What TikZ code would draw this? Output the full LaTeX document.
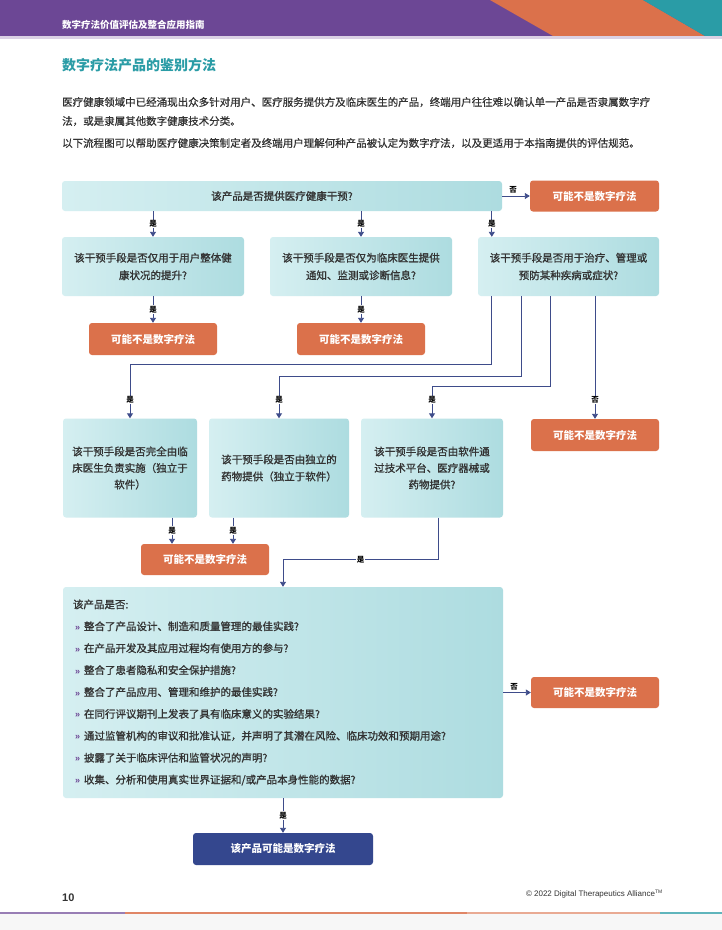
\documentclass[tikz,border=0pt]{standalone}
\usepackage{fontspec}
\setmainfont{Noto Sans CJK SC}
\newfontfamily\latinfont{Liberation Sans}
\newfontfamily\boxfont{Noto Sans CJK SC}[FakeBold=1.2]
\newfontfamily\parfont{Noto Sans CJK SC}[FakeBold=0.6]
\usetikzlibrary{calc,arrows.meta}
\definecolor{dtapurple}{HTML}{6C4795}
\definecolor{dtaorange}{HTML}{DB714B}
\definecolor{dtateal}{HTML}{2A9CA6}
\definecolor{dtanavy}{HTML}{34478E}
\definecolor{flowline}{HTML}{3E4C8A}
\definecolor{boxlight}{HTML}{D5EFF1}
\definecolor{boxdark}{HTML}{ADDCE0}
\definecolor{bodytext}{HTML}{333333}
\newcommand{\pbullet}{\makebox[11pt][l]{\hspace*{2pt}\textcolor{dtapurple}{\latinfont\bfseries\fontsize{9}{9}\selectfont »}}}

\begin{document}
\begin{tikzpicture}[x=1pt,y=-1pt,
	qbox/.style={rounded corners=3pt, left color=boxlight, right color=boxdark, text=bodytext, font=\boxfont\fontsize{10.5}{17.5}\selectfont, align=center, inner sep=0pt},
	nobox/.style={rounded corners=3pt, fill=dtaorange, text=white, font=\bfseries\fontsize{10.5}{13}\selectfont, minimum width=128, minimum height=31, inner sep=0pt},
	flow/.style={draw=flowline, line width=0.9pt, -{Triangle[width=6pt,length=5pt]}},
	yn/.style={fill=white, text=black, font=\bfseries\fontsize{7.5}{8}\selectfont, inner sep=1pt},
	line/.style={anchor=base west, inner sep=0pt, text=bodytext, font=\parfont\fontsize{10.5}{12}\selectfont}]
	%%%%% START %%%%%
	
	\fill[white] (0,0) rectangle (722,930);
	\useasboundingbox (0,0) rectangle (722,930);
	
	% header
	\fill[dtapurple] (0,0) rectangle (722,36);
	\fill[dtaorange] (490,0) -- (643,0) -- (705,36) -- (553,36) -- cycle;
	\fill[dtateal] (643,0) -- (722,0) -- (722,36) -- (705,36) -- cycle;
	\fill[dtapurple!25] (0,36) rectangle (722,38.5);
	\node[anchor=base west, inner sep=0pt, text=white, font=\bfseries\fontsize{9.5}{11}\selectfont] (head) at (62,28.6) {数字疗法价值评估及整合应用指南};
	
	\node[anchor=base west, inner sep=0pt, text=dtateal, font=\bfseries\fontsize{14}{16}\selectfont] (title) at (62,70.3) {数字疗法产品的鉴别方法};
	\node[line] (par1) at (62,106) {医疗健康领域中已经涌现出众多针对用户、医疗服务提供方及临床医生的产品，终端用户往往难以确认单一产品是否隶属数字疗};
	\node[line] (par2) at (62,125) {法，或是隶属其他数字健康技术分类。};
	\node[line] (par3) at (62,147) {以下流程图可以帮助医疗健康决策制定者及终端用户理解何种产品被认定为数字疗法，以及更适用于本指南提供的评估规范。};
	
	% boxes
	\node[qbox, minimum width=440, minimum height=30] (qa) at (282,196) {该产品是否提供医疗健康干预?};
	\node[nobox, minimum width=129] (nr1) at (594.5,196) {可能不是数字疗法};
	
	\node[qbox, minimum width=182, minimum height=59] (qb1) at (153,266.5) {该干预手段是否仅用于用户整体健\\康状况的提升?};
	\node[qbox, minimum width=182, minimum height=59] (qb2) at (361,266.5) {该干预手段是否仅为临床医生提供\\通知、监测或诊断信息?};
	\node[qbox, minimum width=181, minimum height=59] (qb3) at (568.5,266.5) {该干预手段是否用于治疗、管理或\\预防某种疾病或症状?};
	\node[nobox, minimum height=32] (nr2) at (153,339) {可能不是数字疗法};
	\node[nobox, minimum height=32] (nr3) at (361,339) {可能不是数字疗法};
	
	\node[qbox, minimum width=134, minimum height=99, font=\boxfont\fontsize{10.5}{16.5}\selectfont] (qc1) at (130,468) {该干预手段是否完全由临\\床医生负责实施（独立于\\软件）};
	\node[qbox, minimum width=140, minimum height=99, font=\boxfont\fontsize{10.5}{17}\selectfont] (qc2) at (279,468) {该干预手段是否由独立的\\药物提供（独立于软件）};
	\node[qbox, minimum width=142, minimum height=99, font=\boxfont\fontsize{10.5}{16.5}\selectfont] (qc3) at (432,468) {该干预手段是否由软件通\\过技术平台、医疗器械或\\药物提供?};
	\node[nobox, minimum height=32] (nr4) at (595,435) {可能不是数字疗法};
	\node[nobox] (nr5) at (205,559.5) {可能不是数字疗法};
	
	\node[qbox, minimum width=440, minimum height=211, text width=420, align=left, font=\boxfont\fontsize{10.5}{21.9}\selectfont] (qd) at (283,692.5) {该产品是否:\\
		\pbullet 整合了产品设计、制造和质量管理的最佳实践?\\
		\pbullet 在产品开发及其应用过程均有使用方的参与?\\
		\pbullet 整合了患者隐私和安全保护措施?\\
		\pbullet 整合了产品应用、管理和维护的最佳实践?\\
		\pbullet 在同行评议期刊上发表了具有临床意义的实验结果?\\
		\pbullet 通过监管机构的审议和批准认证，并声明了其潜在风险、临床功效和预期用途?\\
		\pbullet 披露了关于临床评估和监管状况的声明?\\
		\pbullet 收集、分析和使用真实世界证据和/或产品本身性能的数据?};
	\node[nobox] (nr6) at (595,692.5) {可能不是数字疗法};
	\node[nobox, fill=dtanavy, minimum width=180, minimum height=32] (nyes) at (283,849) {该产品可能是数字疗法};
	
	% connectors
	\coordinate (b3in) at ($(qb3.north west)+(14,0)$);
	\coordinate (b3o1) at ($(qb3.south west)+(14,0)$);
	\coordinate (b3o2) at ($(qb3.south west)+(44,0)$);
	\coordinate (b3o3) at ($(qb3.south west)+(73,0)$);
	\coordinate (ylab) at (0,400);
	\coordinate (c1out) at ($(nr5.north)+(-33,0)$);
	\coordinate (c2out) at ($(nr5.north)+(28,0)$);
	
	\draw[flow] (qa.east) -- node[yn, fill=none, above=1pt, pos=0.4] {否} (nr1.west);
	\draw[flow] (qa.south -| qb1) -- node[yn] {是} (qb1.north);
	\draw[flow] (qa.south -| qb2) -- node[yn] {是} (qb2.north);
	\draw[flow] (qa.south -| b3in) -- node[yn] {是} (b3in);
	\draw[flow] (qb1.south) -- node[yn] {是} (nr2.north);
	\draw[flow] (qb2.south) -- node[yn] {是} (nr3.north);
	
	\draw[flow] (b3o1) |- ($(qc1.north)+(0,-54)$) -- (qc1.north);
	\draw[flow] (b3o2) |- ($(qc2.north)+(0,-41.5)$) -- (qc2.north);
	\draw[flow] (b3o3) |- ($(qc3.north)+(0,-31.5)$) -- (qc3.north);
	\draw[flow] (qb3.south -| nr4) -- (nr4.north);
	\node[yn] at (qc1.north |- ylab) {是};
	\node[yn] at (qc2.north |- ylab) {是};
	\node[yn] at (qc3.north |- ylab) {是};
	\node[yn] at (nr4.north |- ylab) {否};
	
	\draw[flow] (qc1.south -| c1out) -- node[yn] {是} (c1out);
	\draw[flow] (qc2.south -| c2out) -- node[yn] {是} (c2out);
	\draw[flow] ($(qc3.south)+(6,0)$) |- node[yn, pos=0.75] {是} (qd.north |- nr5) -- (qd.north);
	
	\draw[flow] (qd.east |- nr6) -- node[yn, fill=none, above=1pt, pos=0.4] {否} (nr6.west);
	\draw[flow] (qd.south) -- node[yn] {是} (nyes.north);
	
	% footer
	\node[anchor=base west, inner sep=0pt, text=bodytext, font=\latinfont\bfseries\fontsize{11}{12}\selectfont] (pageno) at (62,901) {10};
	\node[anchor=base east, inner sep=0pt, text=bodytext, font=\latinfont\fontsize{8}{9}\selectfont] (copy) at (663,896) {© 2022 Digital Therapeutics Alliance\textsuperscript{\fontsize{5}{5}\selectfont TM}};
	\fill[dtapurple!70] (0,911.5) rectangle (125,914);
	\fill[dtaorange!85] (125,911.5) rectangle (467,914);
	\fill[dtaorange!60] (467,911.5) rectangle (660,914);
	\fill[dtateal!75] (660,911.5) rectangle (722,914);
	\fill[black!3] (0,914) rectangle (722,930);
	
	%%%%% END %%%%%
\end{tikzpicture}
\end{document}
